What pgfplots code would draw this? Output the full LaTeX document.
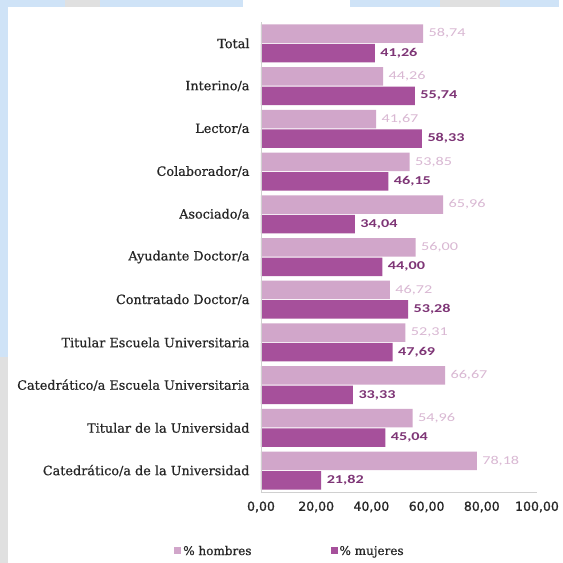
\documentclass[border=0pt]{standalone}
\usepackage{pgfplots}
\pgfplotsset{compat=1.18}
\usepackage{fontspec}
\setmainfont[FakeBold=0.6]{DejaVu Serif}
\newfontfamily\tickfont[FakeBold=1]{DejaVu Sans}
\newfontfamily\lblfont[FakeStretch=1.35]{Carlito}
\definecolor{hom}{HTML}{D1A6CA}
\definecolor{muj}{HTML}{A6509B}
\definecolor{homlbl}{HTML}{D9B8D3}
\definecolor{mujlbl}{HTML}{7E3576}
\definecolor{bgblue}{HTML}{CFE3F7}
\definecolor{txt}{HTML}{262626}
\definecolor{axgray}{HTML}{D0D0D0}
\begin{document}
\begin{tikzpicture}[x=1pt,y=1pt]
\fill[bgblue] (0,0) rectangle (559,563);
\fill[black!12] (0,0) rectangle (10,206);
\fill[black!12] (65,556) rectangle (100,563);
\fill[black!12] (440,556) rectangle (500,563);
\fill[white] (243,556) rectangle (350,563);
\fill[white] (8,0) rectangle (559,556);
\coordinate (A) at (261,71);
\begin{axis}[
  at={(A)}, anchor=south west,
  scale only axis, width=276pt, height=470pt,
  xmin=0, xmax=100, ymin=-0.5, ymax=10.5, y dir=reverse,
  xbar, bar width=18.5pt,
  axis line style={draw=none}, major tick length=0pt,
  xtick={0,20,40,60,80,100},
  ytick={0,...,10},
  yticklabels={Total,Interino/a,Lector/a,Colaborador/a,Asociado/a,Ayudante Doctor/a,Contratado Doctor/a,Titular Escuela Universitaria,Catedrático/a Escuela Universitaria,Titular de la Universidad,Catedrático/a de la Universidad},
  yticklabel style={font=\fontsize{12.8}{14}\selectfont, text=txt, xshift=-8pt},
  xticklabel style={font=\tickfont\fontsize{12.5}{14}\selectfont, text=txt, yshift=-6pt},
  /pgf/number format/assume math mode=true,
  xticklabel={\pgfmathprintnumber[fixed,fixed zerofill,precision=2,use comma]{\tick}},
  nodes near coords={\pgfmathprintnumber[fixed,fixed zerofill,precision=2,use comma,assume math mode=true]{\pgfplotspointmeta}},
  nodes near coords style={font=\lblfont\fontsize{12}{13}\selectfont, xshift=2pt},
  legend style={at={(0.105,-0.126)}, anchor=center, draw=none, fill=none, legend columns=2, font=\fontsize{12}{13}\selectfont, text=txt, /tikz/every even column/.append style={column sep=77pt}},
  legend image code/.code={\fill[#1] (0pt,-3pt) rectangle (7pt,4pt);},
  clip=false,
]
\addplot[fill=hom, draw=none, bar shift=9.75pt, nodes near coords style={text=homlbl}] coordinates {
(58.74,0) (44.26,1) (41.67,2) (53.85,3) (65.96,4) (56.00,5) (46.72,6) (52.31,7) (66.67,8) (54.96,9) (78.18,10)};
\addlegendentry{\% hombres}
\addplot[fill=muj, draw=none, bar shift=-9.75pt, nodes near coords style={text=mujlbl, font=\lblfont\bfseries\fontsize{12}{13}\selectfont}] coordinates {
(41.26,0) (55.74,1) (58.33,2) (46.15,3) (34.04,4) (44.00,5) (53.28,6) (47.69,7) (33.33,8) (45.04,9) (21.82,10)};
\addlegendentry{\% mujeres}
\draw[axgray, line width=1pt] (axis cs:0,10.5) -- (axis cs:100,10.5);
\draw[axgray, line width=0.6pt] (axis cs:0,-0.5) -- (axis cs:0,10.5);
\end{axis}
\end{tikzpicture}
\end{document}
